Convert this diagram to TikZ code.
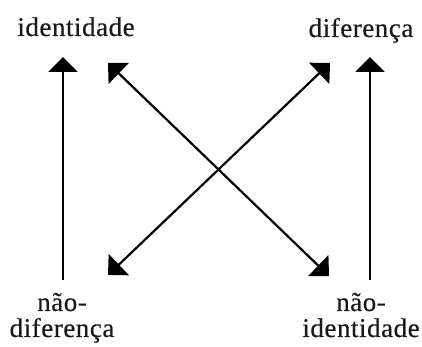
\documentclass[tikz,border=0pt]{standalone}
\usepackage{fontspec}
\setmainfont[LetterSpace=2,FakeBold=0.4]{Liberation Serif}
\usetikzlibrary{arrows.meta}
\tikzset{
  lbl/.style={font=\fontsize{27}{26}\selectfont, inner sep=0pt, text=black!90},
  arr/.style={line width=2.2pt, -{Triangle[length=15pt,width=29pt]}},
  darr/.style={line width=2.2pt, {Triangle[length=15pt,width=29pt]}-{Triangle[length=15pt,width=29pt]}}
}
\begin{document}
\begin{tikzpicture}[x=1pt,y=1pt]
\useasboundingbox (0,0) rectangle (422,347);
\node[lbl, anchor=base] (id) at (76,311) {identidade};
\node[lbl, anchor=base] (dif) at (361,310) {diferença};
\node[lbl, anchor=base, align=center] (nd) at (62,10) {não-\\diferença};
\node[lbl, anchor=base, align=center] (ni) at (361,10) {não-\\identidade};
\coordinate (lb) at (63,67);
\coordinate (lt) at (63,290);
\coordinate (rb) at (370,67);
\coordinate (rt) at (370,290);
\coordinate (tl) at (108,284);
\coordinate (br) at (329,71);
\coordinate (bl) at (108,72);
\coordinate (tr) at (330,284);
\draw[arr] (lb) -- (lt);
\draw[arr] (rb) -- (rt);
\draw[darr] (tl) -- (br);
\draw[darr] (bl) -- (tr);
\end{tikzpicture}
\end{document}
